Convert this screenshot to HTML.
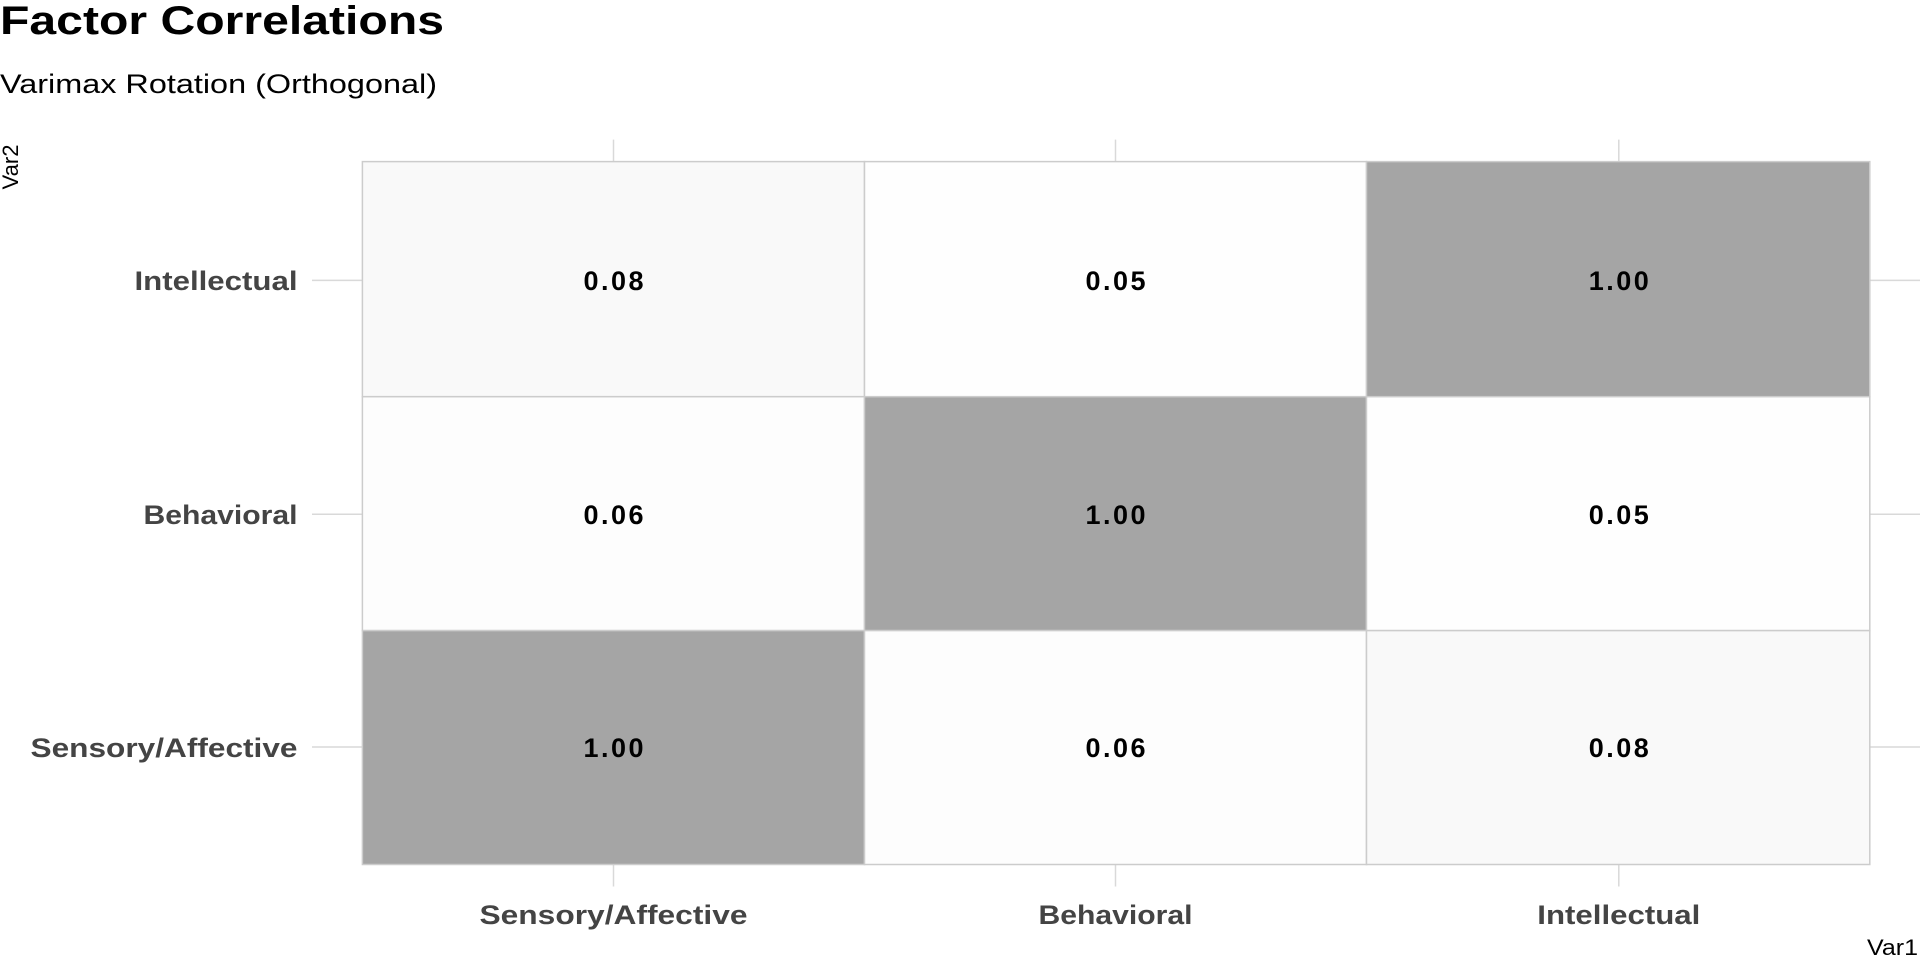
<!DOCTYPE html>
<html><head><meta charset="utf-8"><style>
html,body{margin:0;padding:0;background:#fff;width:1920px;height:960px;overflow:hidden}
svg{display:block;font-family:"Liberation Sans",sans-serif}
</style></head><body>
<svg width="1920" height="960" viewBox="0 0 1920 960" xmlns="http://www.w3.org/2000/svg">
<rect width="1920" height="960" fill="#fff"/>
<text x="0" y="34" font-size="40" font-weight="bold" fill="#000" textLength="444" lengthAdjust="spacingAndGlyphs">Factor Correlations</text>
<text x="0" y="93" font-size="27" fill="#000" textLength="437" lengthAdjust="spacingAndGlyphs">Varimax Rotation (Orthogonal)</text>
<g stroke="#d9d9d9" stroke-width="1.5">
<line x1="613.5" y1="139.6" x2="613.5" y2="886.5"/>
<line x1="1115.5" y1="139.6" x2="1115.5" y2="886.5"/>
<line x1="1618.8" y1="139.6" x2="1618.8" y2="886.5"/>
<line x1="312" y1="280.4" x2="1920" y2="280.4"/>
<line x1="312" y1="514.3" x2="1920" y2="514.3"/>
<line x1="312" y1="747" x2="1920" y2="747"/>
</g>
<g stroke="#cccccc" stroke-width="1.5">
<rect x="362.4" y="161.6" width="502.1" height="235.1" fill="#f9f9f9"/>
<rect x="864.5" y="161.6" width="502" height="235.1" fill="#fefefe"/>
<rect x="1366.5" y="161.6" width="503.3" height="235.1" fill="#a5a5a5"/>
<rect x="362.4" y="396.7" width="502.1" height="233.9" fill="#fdfdfd"/>
<rect x="864.5" y="396.7" width="502" height="233.9" fill="#a5a5a5"/>
<rect x="1366.5" y="396.7" width="503.3" height="233.9" fill="#fefefe"/>
<rect x="362.4" y="630.6" width="502.1" height="233.9" fill="#a5a5a5"/>
<rect x="864.5" y="630.6" width="502" height="233.9" fill="#fdfdfd"/>
<rect x="1366.5" y="630.6" width="503.3" height="233.9" fill="#f9f9f9"/>
</g>
<g font-size="27" font-weight="bold" fill="#000" text-anchor="middle" lengthAdjust="spacingAndGlyphs">
<text x="613.5" y="290" textLength="60">0.08</text><text x="1115.5" y="290" textLength="60">0.05</text><text x="1618.8" y="290" textLength="60">1.00</text>
<text x="613.5" y="524" textLength="60">0.06</text><text x="1115.5" y="524" textLength="60">1.00</text><text x="1618.8" y="524" textLength="60">0.05</text>
<text x="613.5" y="757" textLength="60">1.00</text><text x="1115.5" y="757" textLength="60">0.06</text><text x="1618.8" y="757" textLength="60">0.08</text>
</g>
<g font-size="27" font-weight="bold" fill="#444" text-anchor="end">
<text x="297.5" y="290" textLength="163" lengthAdjust="spacingAndGlyphs">Intellectual</text>
<text x="297.5" y="524" textLength="154" lengthAdjust="spacingAndGlyphs">Behavioral</text>
<text x="297.5" y="757" textLength="267" lengthAdjust="spacingAndGlyphs">Sensory/Affective</text>
</g>
<g font-size="27" font-weight="bold" fill="#444" text-anchor="middle">
<text x="613.5" y="924" textLength="268" lengthAdjust="spacingAndGlyphs">Sensory/Affective</text>
<text x="1115.5" y="924" textLength="154" lengthAdjust="spacingAndGlyphs">Behavioral</text>
<text x="1618.8" y="924" textLength="163" lengthAdjust="spacingAndGlyphs">Intellectual</text>
</g>
<text x="1918" y="955" font-size="22" fill="#000" text-anchor="end" textLength="51" lengthAdjust="spacingAndGlyphs">Var1</text>
<text transform="translate(18,167) rotate(-90)" font-size="22" fill="#000" text-anchor="middle" textLength="45" lengthAdjust="spacingAndGlyphs">Var2</text>
</svg>
</body></html>
